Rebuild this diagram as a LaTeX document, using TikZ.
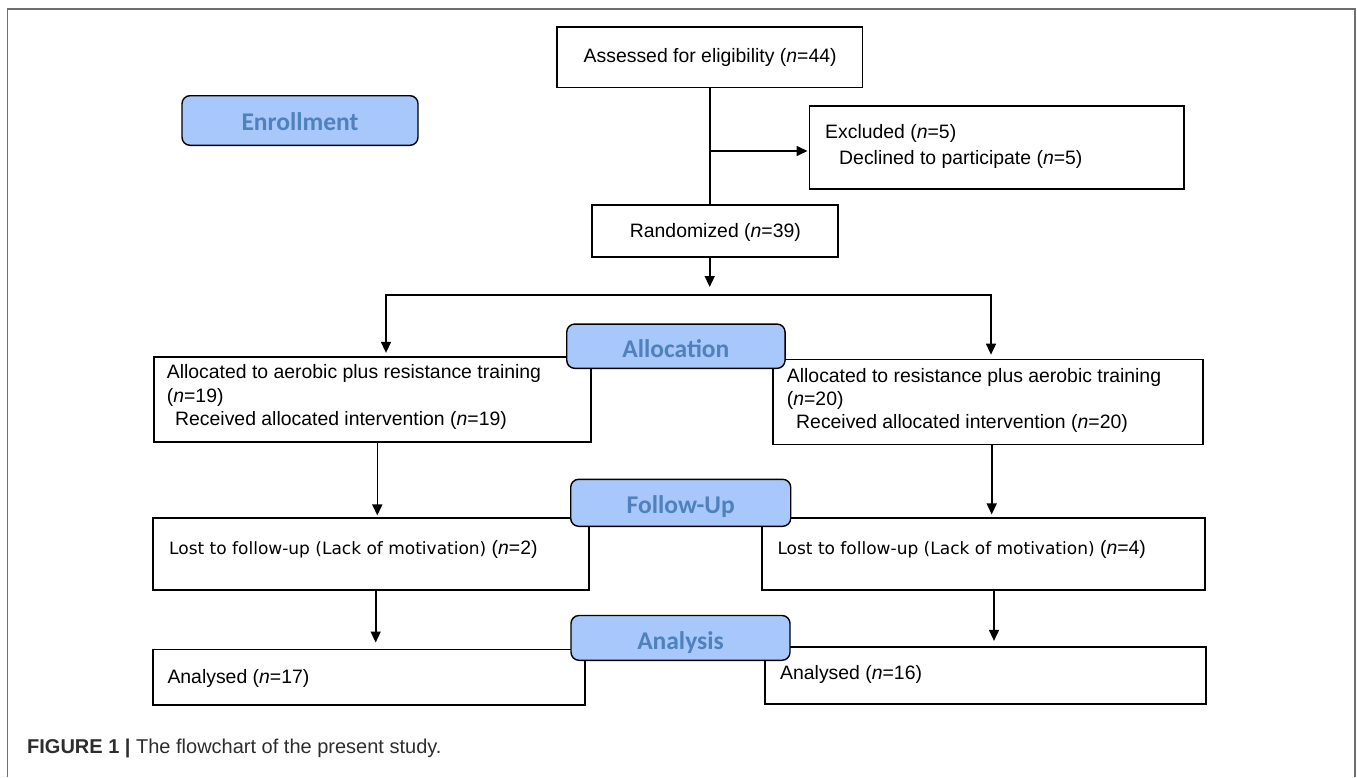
\documentclass[tikz,border=0pt]{standalone}
\usepackage{fontspec}
\setmainfont{Liberation Sans}
\newfontfamily\dejavu{DejaVu Sans}
\newfontfamily\carlito{Carlito}
\usetikzlibrary{arrows.meta}
\definecolor{labfill}{RGB}{168,199,250}
\definecolor{labtext}{RGB}{79,129,189}
\definecolor{framegray}{RGB}{110,110,110}
\definecolor{capgray}{RGB}{45,45,45}
\begin{document}
\begin{tikzpicture}[x=1bp,y=-1bp,
  box/.style={draw=black, line width=1.7bp, rectangle, inner sep=0pt},
  stage/.style={draw=black, line width=1.4bp, fill=labfill, rounded corners=8bp, inner sep=0pt,
    font=\carlito\bfseries\fontsize{25.5bp}{28bp}\selectfont, text=labtext, text height=19.5bp, text depth=0bp},
  txt/.style={inner sep=0pt, anchor=west, align=left, font=\fontsize{19.4bp}{23.3bp}\selectfont},
  conn/.style={line width=1.6bp, draw=black},
  arr/.style={conn, -{Triangle[length=11bp,width=10bp]}},
]
\useasboundingbox (0,0) rectangle (1357,777);
% frame
\draw[framegray, line width=1.5bp] (7.5,777) -- (7.5,9) -- (1355,9) -- (1355,777);

% boxes
\node[box, minimum width=305.3bp, minimum height=60.8bp] (assess) at (709.7,57.1) {};
\node[box, minimum width=374.7bp, minimum height=83.6bp] (excl) at (996.7,147.5) {};
\node[box, minimum width=245.7bp, minimum height=51.7bp] (rand) at (714.9,230.9) {};
\node[box, minimum width=436.7bp, minimum height=85bp] (allocL) at (372.4,399.2) {};
\node[box, minimum width=429.4bp, minimum height=85bp] (allocR) at (988,402) {};
\node[box, minimum width=436bp, minimum height=72.3bp] (lostL) at (371.3,553.9) {};
\node[box, minimum width=443bp, minimum height=72.3bp] (lostR) at (983.5,553.9) {};
\node[box, minimum width=432.3bp, minimum height=55.7bp] (anL) at (368.9,677.2) {};
\node[box, minimum width=441bp, minimum height=57.3bp] (anR) at (985.5,675.4) {};

% texts
\node[txt] (tAssess) at (583.5,57) {Assessed for eligibility (\textit{n}=44)};
\node[txt, font=\fontsize{19.4bp}{25.5bp}\selectfont] (tExcl) at (825,146.5) {Excluded (\textit{n}=5)\\\hspace*{14bp}Declined to participate (\textit{n}=5)};
\node[txt] (tRand) at (629.7,232) {Randomized (\textit{n}=39)};
\node[txt] (tAllocL) at (166.7,397) {Allocated to aerobic plus resistance training\\(\textit{n}=19)\\\hspace*{8.3bp}Received allocated intervention (\textit{n}=19)};
\node[txt] (tAllocR) at (786.7,400.3) {Allocated to resistance plus aerobic training\\(\textit{n}=20)\\\hspace*{9.3bp}Received allocated intervention (\textit{n}=20)};
\node[txt] (tLostL) at (169,549) {{\dejavu\fontsize{17bp}{20bp}\selectfont Lost to follow-up (Lack of motivation)} (\textit{n}=2)};
\node[txt] (tLostR) at (777.3,549) {{\dejavu\fontsize{17bp}{20bp}\selectfont Lost to follow-up (Lack of motivation)} (\textit{n}=4)};
\node[txt] (tAnL) at (167.3,678.5) {Analysed (\textit{n}=17)};
\node[txt] (tAnR) at (780,674.5) {Analysed (\textit{n}=16)};
\node[txt, font=\fontsize{20bp}{24bp}\selectfont, text=capgray] (cap) at (27,748) {\textbf{FIGURE 1 |} The flowchart of the present study.};

% connectors
\coordinate (jEx) at (709.7,151);
\coordinate (split) at (709.7,287);
\coordinate (bl) at (386,295);
\coordinate (br) at (991,295);
\coordinate (xL1) at (377.3,0);
\coordinate (xR1) at (991.7,0);
\coordinate (xL2) at (375.7,0);
\coordinate (xR2) at (994,0);

\draw[conn] (assess.south) -- (assess.south |- rand.north);
\draw[arr, shorten >=1bp] (jEx) -- (jEx -| excl.west);
\draw[arr] (jEx |- rand.south) -- (split);
\draw[arr, shorten >=3bp, line join=miter] (br) -- (bl) -- (bl |- allocL.north);
\draw[arr, shorten >=4bp, line join=miter] (bl) -- (br) -- (br |- allocR.north);
\draw[arr, shorten >=1.5bp] (xL1 |- allocL.south) -- (xL1 |- lostL.north);
\draw[arr, shorten >=2.5bp] (xR1 |- allocR.south) -- (xR1 |- lostR.north);
\draw[arr, shorten >=6bp] (xL2 |- lostL.south) -- (xL2 |- anL.north);
\draw[arr, shorten >=5bp] (xR2 |- lostR.south) -- (xR2 |- anR.north);

% stage labels
\node[stage, minimum width=236bp, minimum height=49.6bp] (enroll) at (300,120.5) {Enrollment};
\node[stage, minimum width=218.3bp, minimum height=44.3bp, text height=22bp] (alloc) at (675.9,346.2) {Allocation};
\node[stage, minimum width=220bp, minimum height=47bp, text height=20.5bp] (follow) at (680.7,502.8) {Follow-Up};
\node[stage, minimum width=219bp, minimum height=44.8bp, text height=24bp] (analysis) at (680.5,637.9) {Analysis};
\end{tikzpicture}
\end{document}
